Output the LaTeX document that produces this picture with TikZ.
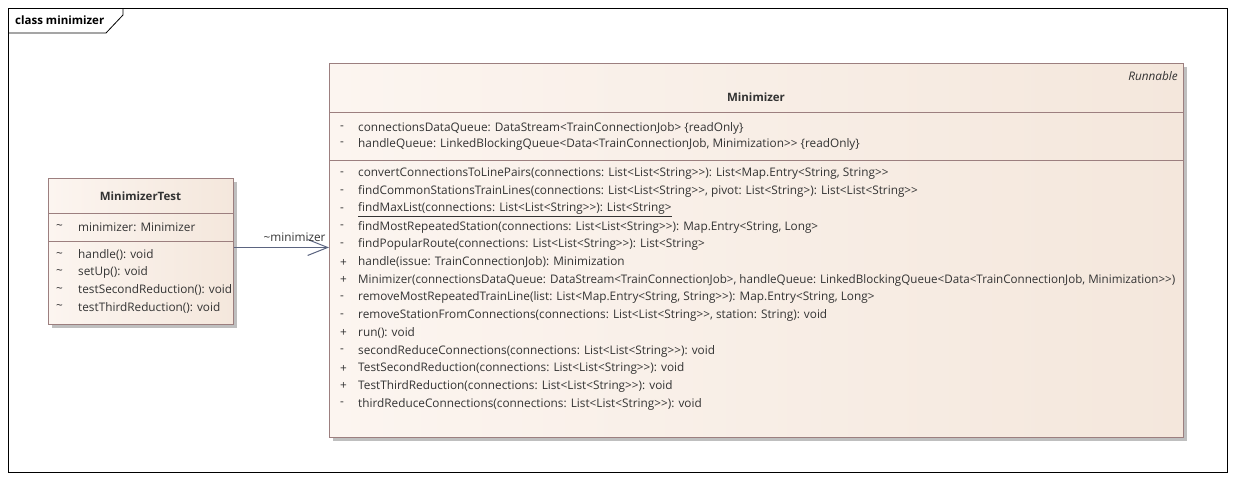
\documentclass[tikz,border=0pt]{standalone}
\usepackage{fontspec}
\usepackage{graphicx}
\setmainfont{Open Sans}[Ligatures=TeXOff]
\usetikzlibrary{arrows.meta,positioning,shadows}

\definecolor{umlline}{HTML}{9C7F7F}
\definecolor{fillleft}{HTML}{FCF5F0}
\definecolor{fillright}{HTML}{F4E7DC}
\definecolor{umltext}{HTML}{333333}
\definecolor{assocline}{HTML}{5B6480}

\begin{document}
\begin{tikzpicture}[x=1pt,y=-1pt,
    classbox/.style={draw=umlline, line width=0.9pt, left color=fillleft,
      right color=fillright, anchor=north west, inner sep=0pt,
      drop shadow={shadow xshift=4pt, shadow yshift=-4pt, fill=black!25, opacity=1}},
    sepline/.style={draw=umlline, line width=0.9pt},
    member/.style={anchor=west, inner sep=0pt, text=umltext,
      font=\fontsize{11.8}{14}\selectfont},
    vis/.style={member},
    classname/.style={inner sep=0pt, text=umltext,
      font=\fontsize{11.5}{14}\selectfont\bfseries},
    assoc/.style={draw=assocline, line width=1pt,
      -{Straight Barb[length=20pt,width=16pt]}}]

  \useasboundingbox (0,0) rectangle (1236,480);

  % frame
  \draw[black, line width=0.8pt] (8,8) rectangle (1227,472);
  \draw[black, line width=0.8pt] (8,33) -- (106,33) -- (123,15) -- (123,8);
  \node[classname, anchor=west, text=black] (frametitle) at (15,20) {class minimizer};

  % class boxes
  \node[classbox, minimum width=185pt, minimum height=146pt] (test) at (48,178) {};
  \node[classbox, minimum width=854pt, minimum height=374pt] (minimizer) at (329,63) {};

  % compartments
  \draw[sepline] (48,213) -- (233,213);
  \draw[sepline] (48,241) -- (233,241);
  \draw[sepline] (329,112) -- (1183,112);
  \draw[sepline] (329,160) -- (1183,160);

  % MinimizerTest
  \node[classname] (testname) at (140.5,196) {MinimizerTest};
  \node[vis] (tv0) at (56,227) {\textasciitilde};
  \node[member] (ta0) at (78,227) {minimizer: Minimizer};
  \foreach \sig [count=\i from 0] in {handle(): void, setUp(): void,
      testSecondReduction(): void, testThirdReduction(): void}{
    \node[vis] (tmv\i) at (56,{255+17.5*\i}) {\textasciitilde};
    \node[member] (tm\i) at (78,{255+17.5*\i}) {\sig};
  }

  % Minimizer
  \node[member, anchor=east, font=\fontsize{11.8}{14}\selectfont\itshape] (stereo) at (1178,76) {Runnable};
  \node[classname] (minname) at (756,97) {Minimizer};
  \node[vis] (mav0) at (340,128) {-};
  \node[member] (ma0) at (358,128) {connectionsDataQueue: DataStream<TrainConnectionJob> \{readOnly\}};
  \node[vis] (mav1) at (340,144) {-};
  \node[member] (ma1) at (358,144) {handleQueue: LinkedBlockingQueue<Data<TrainConnectionJob, Minimization>> \{readOnly\}};
  \foreach \v/\sig [count=\i from 0] in {
      -/{convertConnectionsToLinePairs(connections: List<List<String>>): List<Map.Entry<String, String>>},
      -/{findCommonStationsTrainLines(connections: List<List<String>>, pivot: List<String>): List<List<String>>},
      -/{\underline{findMaxList(connections: List<List<String>>): List<String>}},
      -/{findMostRepeatedStation(connections: List<List<String>>): Map.Entry<String, Long>},
      -/{findPopularRoute(connections: List<List<String>>): List<String>},
      +/{handle(issue: TrainConnectionJob): Minimization},
      +/{\resizebox{817pt}{\height}{Minimizer(connectionsDataQueue: DataStream<TrainConnectionJob>, handleQueue: LinkedBlockingQueue<Data<TrainConnectionJob, Minimization>>)}},
      -/{removeMostRepeatedTrainLine(list: List<Map.Entry<String, String>>): Map.Entry<String, Long>},
      -/{removeStationFromConnections(connections: List<List<String>>, station: String): void},
      +/{run(): void},
      -/{secondReduceConnections(connections: List<List<String>>): void},
      +/{TestSecondReduction(connections: List<List<String>>): void},
      +/{TestThirdReduction(connections: List<List<String>>): void},
      -/{thirdReduceConnections(connections: List<List<String>>): void}}{
    \node[vis] (mmv\i) at (340,{174+17.7*\i}) {\v};
    \node[member] (mm\i) at (358,{174+17.7*\i}) {\sig};
  }

  % association
  \draw[assoc] ([yshift=4pt]test.east) -- ([yshift=4pt]test.east -| minimizer.west)
    node[member, anchor=south east, pos=1, xshift=-3pt, yshift=5pt] (rolename) {\textasciitilde minimizer};
\end{tikzpicture}
\end{document}
